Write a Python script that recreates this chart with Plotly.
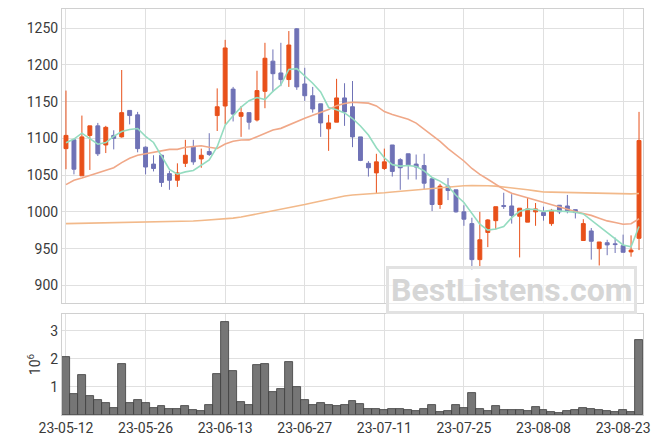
import plotly.graph_objects as go
from plotly.subplots import make_subplots

dates = ["2023-05-12","2023-05-15","2023-05-16","2023-05-17","2023-05-18","2023-05-19","2023-05-22","2023-05-23","2023-05-24","2023-05-25",
         "2023-05-26","2023-05-30","2023-05-31","2023-06-01","2023-06-02","2023-06-05","2023-06-07","2023-06-08","2023-06-09","2023-06-12",
         "2023-06-13","2023-06-14","2023-06-15","2023-06-16","2023-06-19","2023-06-20","2023-06-21","2023-06-22","2023-06-23","2023-06-26",
         "2023-06-27","2023-06-28","2023-06-29","2023-06-30","2023-07-03","2023-07-04","2023-07-05","2023-07-06","2023-07-07","2023-07-10",
         "2023-07-11","2023-07-12","2023-07-13","2023-07-14","2023-07-17","2023-07-18","2023-07-19","2023-07-20","2023-07-21","2023-07-24",
         "2023-07-25","2023-07-26","2023-07-27","2023-07-28","2023-07-31","2023-08-01","2023-08-02","2023-08-03","2023-08-04","2023-08-07",
         "2023-08-08","2023-08-09","2023-08-10","2023-08-11","2023-08-14","2023-08-16","2023-08-17","2023-08-18","2023-08-21","2023-08-22",
         "2023-08-23","2023-08-24","2023-08-25"]

open_ = [1086,1098,1049,1104,1117,1091,1104,1102,1138,1132,
         1088,1065,1077,1052,1043,1066,1088,1072,1082,1131,
         1144,1167,1130,1135,1125,1164,1205,1189,1180,1249,
         1174,1158,1147,1113,1122,1155,1143,1102,1066,1053,
         1059,1091,1071,1079,1065,1063,1045,1010,1035,1030,
         1000,984,935,972,988,1008.5,1008,994,986,1000,
         999,984,1009,1008,1003,961,974,950,958,956.5,
         954,945.5,964]
high = [1165,1098,1131,1117,1121,1117,1111,1193,1138,1136,
        1089,1077,1078,1056,1066,1098,1098,1086,1107,1168,
        1234,1170,1144,1135,1192,1230,1221,1230,1246,1250,
        1196,1170,1147,1132,1181,1175,1178,1102,1069,1079,
        1086,1091,1073,1079,1078,1079,1047,1038,1046,1030,
        1009,992,1000,990,1007,1026,1024,1005,1019,1012,
        1007,1004,1009,1023,1003,990,978,959,962,965,
        969,968,1136]
low = [1058,1051,1049,1057,1076,1080,1085,1101,1119,1081,
       1051,1055,1034,1030,1034,1061,1064,1060,1076,1110,
       1119,1123,1102,1112,1123,1141,1163,1171,1170,1166,
       1151,1135,1102,1083,1122,1117,1088,1069,1048,1025,
       1057,1048,1030,1044,1044,1031,1001,1004,1016,999,
       981,921,925,952,976,1004,984,938,986,981,
       988,981,997,998,991,961,935,927,941,944,
       945,939,948]
close = [1104,1058,1102,1117,1079,1115,1100,1135,1131,1086,
         1061,1059,1040,1043,1053,1077,1068,1077,1078,1143,
         1223,1133,1135,1122,1165,1209,1188,1180,1227,1170,
         1158,1140,1121,1121,1155,1136,1102,1070,1060,1068,
         1068,1055,1060,1064,1061,1039,1010,1035,1029,1000,
         990,935,962,989,1007,1007.5,995,1005,1004,1004,
         995,1002,1000,1001,999,984,960,959,955,955.5,
         945,948,1097]

ma5 = [1094,1099,1107,1099,1092.0,1094.2,1102.6,1109.2,1112.0,1113.4,
       1102.6,1094.4,1075.4,1057.8,1051.2,1054.4,1056.2,1063.6,1070.6,1088.6,
       1117.8,1130.8,1142.4,1151.2,1155.6,1152.8,1163.8,1172.8,1193.8,1194.8,
       1184.6,1175.0,1163.2,1142.0,1139.0,1134.6,1127.0,1116.8,1104.6,1087.2,
       1073.6,1064.2,1062.2,1063.0,1061.6,1055.8,1046.8,1041.8,1034.8,1022.6,
       1012.8,997.8,983.2,975.2,976.6,980.1,992.1,1000.7,1003.7,1003.1,
       1000.6,1002.0,1001.0,1000.4,999.4,997.2,988.8,980.6,971.4,962.7,
       954.9,952.5,980.1]
ma20 = [1037,1043,1046,1049.5,1053,1056,1060,1067,1073,1077,
        1079,1081.5,1084,1085,1085,1088,1089,1090,1088,1086.3,
        1092.3,1096.0,1097.7,1097.9,1102.2,1106.9,1111.3,1113.6,1118.4,1122.6,
        1127.4,1131.5,1135.5,1139.4,1144.5,1147.5,1149.2,1148.8,1147.9,1144.2,
        1136.4,1132.5,1128.8,1125.9,1120.7,1112.2,1103.3,1096.0,1086.1,1077.6,
        1069.2,1059.0,1051.0,1044.4,1037.0,1030.6,1025.2,1022.0,1019.2,1016.0,
        1012.3,1009.7,1006.7,1003.5,1000.4,997.7,995.2,991.4,987.7,985.5,
        983.2,983.9,990.6]
ma_long = [984,984.2,984.4,984.6,984.8,985,985.1,985.2,985.3,985.4,
           985.5,985.8,986.1,986.4,986.7,987,987.6,988.2,989,989.5,
           990,991.5,993,995,997,999.5,1002,1004,1006,1008,
           1010,1012.5,1015,1017.5,1020,1021.5,1023,1024,1024.5,1025.2,
           1026,1027,1028,1029,1030,1031,1032,1033,1034,1034.8,
           1035.5,1035.8,1036,1035.5,1035,1034,1033,1031.5,1030,1028.5,
           1027,1026.8,1026.5,1026.2,1026,1025.5,1025,1024.8,1024.5,1024.2,
           1024,1024.5,1025]
volume_m = [2.07,0.75,1.43,0.68,0.54,0.43,0.26,1.82,0.43,0.54,
            0.43,0.25,0.32,0.21,0.21,0.32,0.18,0.14,0.36,1.46,
            3.32,1.57,0.46,0.36,1.79,1.82,0.82,0.93,1.89,1.00,
            0.54,0.36,0.43,0.36,0.32,0.36,0.50,0.39,0.21,0.21,
            0.18,0.21,0.21,0.18,0.14,0.21,0.36,0.11,0.14,0.36,
            0.25,0.79,0.21,0.14,0.32,0.18,0.18,0.18,0.14,0.29,
            0.18,0.11,0.07,0.14,0.18,0.25,0.21,0.18,0.14,0.11,
            0.18,0.11,2.68]

tick_dates = ["2023-05-12","2023-05-26","2023-06-13","2023-06-27","2023-07-11","2023-07-25","2023-08-08","2023-08-23"]
tick_text = ["23-05-12","23-05-26","23-06-13","23-06-27","23-07-11","23-07-25","23-08-08","23-08-23"]
price_ticks = [900, 950, 1000, 1050, 1100, 1150, 1200, 1250]
vol_ticks = [1, 2, 3]

RED = "#e8501a"
BLUE = "#6f72b6"
FONT = "Roboto"
TXT = "#3a3a3a"
GRID = "#e0e0e0"

fig = make_subplots(rows=2, cols=1, shared_xaxes=True)

fig.add_trace(go.Candlestick(
    x=dates, open=open_, high=high, low=low, close=close,
    increasing=dict(line=dict(color=RED, width=1), fillcolor=RED),
    decreasing=dict(line=dict(color=BLUE, width=1), fillcolor=BLUE),
    whiskerwidth=0, showlegend=False, hoverinfo="skip"), row=1, col=1)

fig.add_trace(go.Scatter(x=dates, y=ma_long, mode="lines",
                         line=dict(color="#f2b98a", width=1.6), showlegend=False), row=1, col=1)
fig.add_trace(go.Scatter(x=dates, y=ma20, mode="lines",
                         line=dict(color="#f0a888", width=1.6), showlegend=False), row=1, col=1)
fig.add_trace(go.Scatter(x=dates, y=ma5, mode="lines",
                         line=dict(color="#94dcc0", width=1.6), showlegend=False), row=1, col=1)

fig.add_trace(go.Bar(x=dates, y=volume_m, marker=dict(color="#767676", line=dict(color="#3c3c3c", width=0.8)),
                     showlegend=False), row=2, col=1)

axis_common = dict(showline=True, linecolor="#d0d0d0", linewidth=1, mirror=True,
                   gridcolor=GRID, zeroline=False, ticks="", automargin=False,
                   tickfont=dict(family=FONT, size=14, color=TXT))

fig.update_xaxes(type="category", range=[-0.5, 72.5], tickmode="array",
                 tickvals=tick_dates, ticktext=tick_text, showgrid=True,
                 rangeslider=dict(visible=False), **axis_common)
fig.update_xaxes(showticklabels=False, row=1, col=1)
fig.update_yaxes(range=[876, 1276], tickmode="array", tickvals=price_ticks,
                 domain=[0.2759, 1.0], row=1, col=1, **axis_common)
fig.update_yaxes(range=[0, 3.6], tickmode="array", tickvals=vol_ticks,
                 domain=[0.0, 0.2488], row=2, col=1,
                 title=dict(text="10<sup>6</sup>", font=dict(family=FONT, size=14, color=TXT), standoff=6),
                 **axis_common)

fig.add_annotation(xref="paper", yref="paper", x=0.774, y=0.308, xanchor="center", yanchor="middle",
                   text="<b>BestListens.com</b>", showarrow=False,
                   font=dict(family=FONT, size=32, color="#d6d6d6"),
                   bordercolor="#e2e2e2", borderwidth=3, borderpad=2,
                   bgcolor="rgba(255,255,255,0.6)")

# the page adds an 8px body margin, so the figure is shifted by that amount
fig.update_layout(width=655, height=436, margin=dict(l=54, r=20, t=1, b=29),
                  paper_bgcolor="white", plot_bgcolor="white", bargap=0,
                  font=dict(family=FONT, color=TXT))

fig.write_html("out.html")
